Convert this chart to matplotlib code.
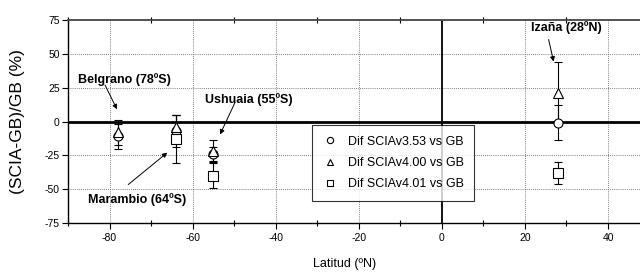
import matplotlib
matplotlib.use("Agg")
import matplotlib.pyplot as plt
from matplotlib.ticker import MultipleLocator
from matplotlib.lines import Line2D

plt.rcParams['font.family'] = ['Liberation Sans', 'DejaVu Sans']

# Data
lat = [-78, -64, -55, 28]
v353 = [-11, -7, -24, -1]
v353_err = [9, 12, 5, 13]
v400 = [-8, -4, -22, 21]
v400_err = [9, 9, 8, 23]
lat401 = [-64, -55, 28]
v401 = [-13, -40, -38]
v401_err = [18, 9, 8]

labels = ['Dif SCIAv3.53 vs GB', 'Dif SCIAv4.00 vs GB', 'Dif SCIAv4.01 vs GB']
stations = ['Belgrano (78ºS)', 'Marambio (64ºS)', 'Ushuaia (55ºS)', 'Izaña (28ºN)']
xticks = [-80, -60, -40, -20, 0, 20, 40]
yticks = [-75, -50, -25, 0, 25, 50, 75]

fig = plt.figure(figsize=(6.4, 2.76), dpi=100)
ax = fig.add_axes([68/640, 53/276, 1 - 68/640, 203/276])
ax.set_xlim(-90, 47.7)
ax.set_ylim(-75, 75)

for xv in [-80, -60, -40, -20, 20, 40]:
    ax.axvline(xv, color='#555555', lw=0.6, ls=(0, (1, 1.5)), zorder=0)
for yv in [50, 25, -25, -50]:
    ax.axhline(yv, color='#555555', lw=0.6, ls=(0, (1, 1.5)), zorder=0)
ax.axhline(0, color='black', lw=2.0, zorder=1)
ax.axvline(0, color='black', lw=1.3, zorder=1)

ekw = dict(ecolor='black', elinewidth=0.8, capsize=3, capthick=0.8, ls='none',
           mfc='white', mec='black', mew=0.8, zorder=3)
ax.errorbar(lat, v353, yerr=v353_err, fmt='o', ms=6.5, label=labels[0], **ekw)
ax.errorbar(lat, v400, yerr=v400_err, fmt='^', ms=7.5, label=labels[1], **ekw)
ax.errorbar(lat401, v401, yerr=v401_err, fmt='s', ms=6.5, label=labels[2], **ekw)

akw = dict(arrowprops=dict(arrowstyle='-|>', color='black', lw=0.7, mutation_scale=7,
                           shrinkA=0, shrinkB=0))
tkw = dict(fontsize=9, fontweight='bold', ha='center', va='center')
ax.annotate('', xy=(-78.2, 9), xytext=(-81.1, 27), **akw)
ax.text(-76.3, 31, stations[0], **tkw)
ax.annotate('', xy=(-66.1, -23), xytext=(-75.5, -46.6), **akw)
ax.text(-73.4, -57.6, stations[1], **tkw)
ax.annotate('', xy=(-53.4, -9.6), xytext=(-49.8, 14), **akw)
ax.text(-46.4, 16.3, stations[2], **tkw)
ax.annotate('', xy=(26.9, 44.3), xytext=(25.7, 60.6), **akw)
ax.text(30, 69.5, stations[3], **tkw)

hs = [Line2D([], [], marker=m, ls='none', mfc='white', mec='black', mew=0.8, ms=4.5)
      for m in ['o', '^', 's']]
leg = ax.legend(hs, labels, loc='upper left',
                bbox_to_anchor=((312-68)/572, (223-125)/203),
                bbox_transform=ax.transAxes, frameon=True, fancybox=False, fontsize=9,
                handlelength=1.2, handletextpad=0.8, borderpad=0.85, labelspacing=0.75,
                edgecolor='black', borderaxespad=0)
leg.get_frame().set_linewidth(0.8)
leg.set_zorder(5)

ax.spines['right'].set_visible(False)
ax.spines['top'].set_color('#444444')
ax.spines['top'].set_linewidth(1.3)
ax.spines['left'].set_linewidth(1.0)
ax.spines['bottom'].set_linewidth(1.0)

ax.set_xticks(xticks)
ax.set_xticklabels([str(v) for v in xticks])
ax.set_yticks(yticks)
ax.set_yticklabels([str(v) for v in yticks])
ax.xaxis.set_minor_locator(MultipleLocator(10))
ax.tick_params(axis='x', which='major', direction='out', length=4, width=0.8, labelsize=7.5, pad=3)
ax.tick_params(axis='x', which='minor', direction='inout', length=5, width=0.8, top=True)
ax.tick_params(axis='y', which='major', direction='out', length=4, width=0.8, labelsize=7.5, pad=2)

ax.set_xlabel('Latitud (ºN)', fontsize=9)
ax.xaxis.set_label_coords((345-68)/572, -0.17)
ax.set_ylabel('(SCIA-GB)/GB (%)', fontsize=12.5)
ax.yaxis.set_label_coords(-0.075, 0.5)

fig.savefig('out.png', dpi=100)
